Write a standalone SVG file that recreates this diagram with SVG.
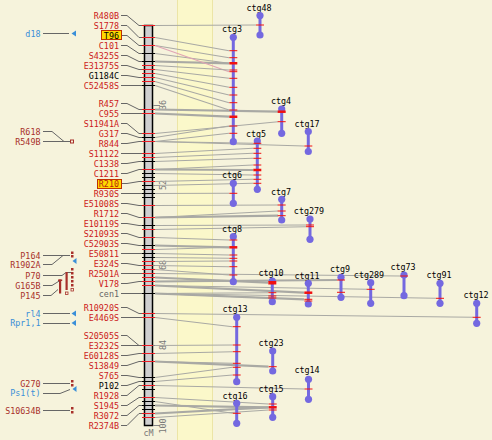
<svg xmlns="http://www.w3.org/2000/svg" width="492" height="440" viewBox="0 0 492 440">
<style>
text{font-family:"DejaVu Sans Mono","Liberation Mono",monospace;font-size:8.4px}
.lb{text-anchor:end;fill:#cc1a1a}
.lk{text-anchor:end;fill:#000}
.lg{text-anchor:end;fill:#666}
.lbl{text-anchor:end;fill:#3a8fd8}
.lbr{text-anchor:end;fill:#a8302a}
.ct{text-anchor:middle;fill:#000}
.ld{stroke:#666;stroke-width:1;fill:none}
.tr{stroke:#ee1c24;stroke-width:1;fill:none}
.tb{stroke:#000;stroke-width:1;fill:none}
.cn line{stroke:#a9a9a4;stroke-width:1.1}
.cn .w{stroke-width:2.2}
.cn .pk{stroke:#e0a4b4}
.bar{stroke:#7468e0;stroke-width:3}
.dot{fill:#7468e0}
.ctk{stroke:#f01010;stroke-width:1}
.ctk2{stroke:#f01010;stroke-width:2.5}
.tri{fill:#3a8fd8}
.mk{fill:#a8302a}
</style>
<rect width="492" height="440" fill="#f6f3dc"/>
<rect x="177" y="0" width="36" height="440" fill="#fbf8ca"/>
<path d="M177.5,0V440M212.5,0V440" stroke="#ece5a6" stroke-width="1"/>

<!-- chromosome -->
<g id="chromosome">
<rect x="144.5" y="25.5" width="8" height="400" fill="#cfcfcf" stroke="#000" stroke-width="1.5"/>
<path class="tr" d="M142,25.5h13M142,37.5h13M142,45.5h13M142,65.5h13M142,69.5h13M142,73.5h13M142,77.5h13M142,81.5h13M142,109.5h13M142,113.5h13M142,133.5h13M142,141.5h13M142,153.5h13M142,157.5h13M142,169.5h13M142,181.5h13M142,205.5h13M142,217.5h13M142,229.5h13M142,237.5h13M142,249.5h13M142,261.5h13M142,265.5h13M142,269.5h13M142,273.5h13M142,277.5h13M142,281.5h13M142,285.5h13M142,313.5h13M142,317.5h13M142,345.5h13M142,353.5h13M142,361.5h13M142,385.5h13M142,397.5h13M142,413.5h13M142,417.5h13"/>
<path class="tb" d="M142,53.5h13M142,61.5h13M142,85.5h13M142,137.5h13M142,161.5h13M142,173.5h13M142,177.5h13M142,185.5h13M142,189.5h13M142,193.5h13M142,197.5h13M142,225.5h13M142,245.5h13M142,253.5h13M142,257.5h13M142,293.5h13M142,377.5h13M142,381.5h13M142,389.5h13M142,401.5h13M142,405.5h13M142,409.5h13"/>
<path d="M153,105.5h7M153,185.5h7M153,265.5h7M153,345.5h7M153,425.5h7" stroke="#888" stroke-width="1"/>
<g fill="#777">
<text transform="translate(166,105) rotate(-90)" text-anchor="middle">36</text>
<text transform="translate(166,185) rotate(-90)" text-anchor="middle">52</text>
<text transform="translate(166,265) rotate(-90)" text-anchor="middle">68</text>
<text transform="translate(166,345) rotate(-90)" text-anchor="middle">84</text>
<text transform="translate(166,426) rotate(-90)" text-anchor="middle">100</text>
<text x="148.5" y="436" text-anchor="middle">cM</text>
</g>
</g>

<!-- marker labels and leaders -->
<g id="markers">
<rect x="101.5" y="30.5" width="20" height="9" fill="#ffd800" stroke="#c03000"/>
<rect x="97.5" y="179.5" width="24" height="9" fill="#ffd800" stroke="#c03000"/>
<path class="ld" d="M121,15.5H127L139,25.5H142M121,25.5H127L139,37.5H142M122,35.5H127L139,45.5H142M121,45.5H127L139,53.5H142M121,55.5H127L139,61.5H142M121,65.5H127L139,69.5H142M121,75.5H127L139,77.5H142M121,85.5H142M121,103.5H127L139,109.5H142M121,113.5H142M121,123.5H127L139,133.5H142M121,133.5H127L139,137.5H142M121,143.5H127L139,141.5H142M121,153.5H127L139,153.5H142M121,163.5H127L139,161.5H142M121,173.5H127L139,169.5H142M122,183.5H127L139,181.5H142M121,193.5H127L139,193.5H142M121,203.5H127L139,205.5H142M121,213.5H127L139,217.5H142M121,223.5H127L139,225.5H142M121,233.5H127L139,237.5H142M121,243.5H127L139,245.5H142M121,253.5H127L139,253.5H142M121,263.5H127L139,265.5H142M121,273.5H127L139,273.5H142M121,283.5H127L139,281.5H142M121,293.5H142M121,307.5H127L139,313.5H142M121,317.5H142M121,335.5H127L139,345.5H142M121,345.5H142M121,355.5H127L139,353.5H142M121,365.5H127L139,361.5H142M121,375.5H127L139,377.5H142M121,385.5H127L139,381.5H142M121,395.5H127L139,385.5H142M121,405.5H127L139,397.5H142M121,415.5H127L139,405.5H142M121,425.5H127L139,413.5H142"/>
<text class="lb" x="119" y="18.5">R480B</text>
<text class="lb" x="119" y="28.5">S1778</text>
<text class="lk" x="119" y="38.5">T96</text>
<text class="lb" x="119" y="48.5">C101</text>
<text class="lb" x="119" y="58.5">S4325S</text>
<text class="lb" x="119" y="68.5">E31375S</text>
<text class="lk" x="119" y="78.5">G1184C</text>
<text class="lb" x="119" y="88.5">C52458S</text>
<text class="lb" x="119" y="106.5">R457</text>
<text class="lb" x="119" y="116.5">C955</text>
<text class="lb" x="119" y="126.5">S11941A</text>
<text class="lb" x="119" y="136.5">G317</text>
<text class="lb" x="119" y="146.5">R844</text>
<text class="lb" x="119" y="156.5">S11122</text>
<text class="lb" x="119" y="166.5">C1338</text>
<text class="lb" x="119" y="176.5">C1211</text>
<text class="lb" x="119" y="186.5" style="fill:#b81c10">R210</text>
<text class="lb" x="119" y="196.5">R930S</text>
<text class="lb" x="119" y="206.5">E51008S</text>
<text class="lb" x="119" y="216.5">R1712</text>
<text class="lb" x="119" y="226.5">E10119S</text>
<text class="lb" x="119" y="236.5">S21093S</text>
<text class="lb" x="119" y="246.5">C52903S</text>
<text class="lb" x="119" y="256.5">E50811</text>
<text class="lb" x="119" y="266.5">E324S</text>
<text class="lb" x="119" y="276.5">R2501A</text>
<text class="lb" x="119" y="286.5">V178</text>
<text class="lg" x="119" y="296.5">cen1</text>
<text class="lb" x="119" y="310.5">R10920S</text>
<text class="lb" x="119" y="320.5">E4469S</text>
<text class="lb" x="119" y="338.5">S20505S</text>
<text class="lb" x="119" y="348.5">E3232S</text>
<text class="lb" x="119" y="358.5">E60128S</text>
<text class="lb" x="119" y="368.5">S13849</text>
<text class="lb" x="119" y="378.5">S765</text>
<text class="lk" x="119" y="388.5">P102</text>
<text class="lb" x="119" y="398.5">R1928</text>
<text class="lb" x="119" y="408.5">S1945</text>
<text class="lb" x="119" y="418.5">R3072</text>
<text class="lb" x="119" y="428.5">R2374B</text>
</g>

<!-- left-side features -->
<g id="features">
<path class="ld" d="M43,33.5H69M43,131.5H52L64,141.5H70M43,141.5H70M43,255.5H70M43,264.5H52L63,255.5M43,275.5H62L66,272.5H72M43,285.5H52L60,280.5M43,295.5H51L58,289.5M43,313.5H70M43,323.5H70M43,383.5H70M43,393.5H60L70,389.5M43,410.5H70"/>
<text class="lbl" x="40.5" y="36.5">d18</text>
<polygon class="tri" points="71.5,33.5 76,30.5 76,36.5"/>
<text class="lbr" x="40.5" y="134.5">R618</text>
<text class="lbr" x="40.5" y="144.5">R549B</text>
<rect x="70.5" y="140" width="3" height="3" fill="none" stroke="#a8302a"/>
<text class="lbr" x="40.5" y="258.5">P164</text>
<text class="lbr" x="40.5" y="267.5">R1902A</text>
<text class="lbr" x="40.5" y="278.5">P70</text>
<text class="lbr" x="40.5" y="288.5">G165B</text>
<text class="lbr" x="40.5" y="298.5">P145</text>
<rect class="mk" x="71" y="251.5" width="2.5" height="2.5"/>
<rect class="mk" x="71" y="255" width="2.5" height="2.5"/>
<polygon class="tri" points="72.5,261 76.5,258 76.5,264"/>
<rect class="mk" x="71" y="268" width="2.5" height="2.5"/>
<rect class="mk" x="71" y="272" width="2.5" height="2.5"/>
<rect class="mk" x="71" y="276" width="2.5" height="2.5"/>
<rect class="mk" x="71" y="280" width="2.5" height="2.5"/>
<rect class="mk" x="71" y="284" width="2.5" height="2.5"/>
<rect x="71" y="288.5" width="2.5" height="2.5" fill="none" stroke="#a8302a" stroke-width="0.8"/>
<rect class="mk" x="65.5" y="272" width="2.2" height="18"/>
<rect x="65.5" y="292" width="2.5" height="2.5" fill="none" stroke="#a8302a" stroke-width="0.8"/>
<rect class="mk" x="59" y="279.5" width="2.2" height="14"/>
<rect class="mk" x="58" y="279.5" width="4.2" height="1.5"/>
<text class="lbl" x="40.5" y="316.5">rl4</text>
<polygon class="tri" points="71.5,313.5 76,310.5 76,316.5"/>
<text class="lbl" x="40.5" y="326">Rpr1,1</text>
<polygon class="tri" points="71.5,323 76,320 76,326"/>
<text class="lbr" x="40.5" y="386.5">G270</text>
<rect class="mk" x="71" y="380" width="2.5" height="2.5"/>
<rect class="mk" x="71" y="384" width="2.5" height="2.5"/>
<text class="lbl" x="40.5" y="396">Ps1(t)</text>
<polygon class="tri" points="72.5,389 76.5,386 76.5,392"/>
<text class="lbr" x="40.5" y="413.5">S10634B</text>
<rect class="mk" x="71" y="407" width="2.5" height="2.5"/>
<rect class="mk" x="71" y="411" width="2.5" height="2.5"/>
</g>

<!-- connectors -->
<g id="connectors" class="cn">
<line x1="155" y1="25.5" x2="256" y2="25"/>
<line x1="155" y1="37.5" x2="229" y2="50.7"/>
<line x1="155" y1="45.5" x2="229" y2="57.7"/>
<line x1="155" y1="53.5" x2="229" y2="63.3"/>
<line class="w" x1="155" y1="61.5" x2="229" y2="63.3"/>
<line class="pk" x1="155" y1="45.5" x2="229" y2="71.7"/>
<line x1="155" y1="65.5" x2="229" y2="70"/>
<line x1="155" y1="69.5" x2="229" y2="78.3"/>
<line x1="155" y1="73.5" x2="229" y2="87.3"/>
<line x1="155" y1="77.5" x2="229" y2="95"/>
<line x1="155" y1="81.5" x2="229" y2="102.7"/>
<line x1="155" y1="85.5" x2="229" y2="110"/>
<line class="w" x1="155" y1="109.5" x2="278" y2="111.7"/>
<line class="w" x1="155" y1="113.5" x2="229" y2="116.7"/>
<line x1="155" y1="133.5" x2="278" y2="121.7"/>
<line x1="155" y1="137.5" x2="229" y2="126"/>
<line x1="155" y1="141.5" x2="229" y2="133.3"/>
<line x1="155" y1="141.5" x2="253" y2="143.3"/>
<line x1="155" y1="141.5" x2="304" y2="146"/>
<line x1="155" y1="153.5" x2="253" y2="148.3"/>
<line x1="155" y1="157.5" x2="253" y2="153.3"/>
<line x1="155" y1="161.5" x2="253" y2="158.3"/>
<line x1="155" y1="169.5" x2="253" y2="165"/>
<line class="w" x1="155" y1="169.5" x2="253" y2="170"/>
<line x1="155" y1="173.5" x2="253" y2="175"/>
<line x1="155" y1="181.5" x2="253" y2="179.3"/>
<line x1="155" y1="185.5" x2="253" y2="183.3"/>
<line x1="155" y1="193.5" x2="229" y2="193.3"/>
<line x1="155" y1="205.5" x2="278" y2="205"/>
<line x1="155" y1="217.5" x2="278" y2="211"/>
<line class="w" x1="155" y1="217.5" x2="278" y2="215.7"/>
<line x1="155" y1="225.5" x2="306" y2="225"/>
<line x1="155" y1="229.5" x2="306" y2="226.7"/>
<line x1="155" y1="237.5" x2="229" y2="240"/>
<line class="w" x1="155" y1="245.5" x2="229" y2="247.3"/>
<line x1="155" y1="249.5" x2="229" y2="247.3"/>
<line x1="155" y1="253.5" x2="229" y2="255"/>
<line x1="155" y1="257.5" x2="229" y2="258.3"/>
<line x1="155" y1="261.5" x2="229" y2="261"/>
<line x1="155" y1="265.5" x2="229" y2="266.7"/>
<line x1="155" y1="269.5" x2="229" y2="275"/>
<line x1="155" y1="273.5" x2="400" y2="276"/>
<line class="w" x1="155" y1="277.5" x2="268" y2="282.7"/>
<line class="w" x1="155" y1="281.5" x2="337" y2="280"/>
<line class="w" x1="155" y1="285.5" x2="304" y2="292.7"/>
<line x1="155" y1="285.5" x2="367" y2="289.3"/>
<line x1="155" y1="293.5" x2="268" y2="292.7"/>
<line x1="155" y1="293.5" x2="436" y2="298.3"/>
<line class="w" x1="155" y1="293.5" x2="304" y2="299.3"/>
<line x1="155" y1="293.5" x2="268" y2="298"/>
<line x1="155" y1="313.5" x2="473" y2="317.3"/>
<line x1="155" y1="317.5" x2="232.5" y2="326.7"/>
<line x1="155" y1="345.5" x2="232.5" y2="345"/>
<line x1="155" y1="353.5" x2="232.5" y2="351.7"/>
<line class="w" x1="155" y1="361.5" x2="268.5" y2="366.7"/>
<line x1="155" y1="361.5" x2="232.5" y2="363.3"/>
<line x1="155" y1="377.5" x2="232.5" y2="367.3"/>
<line x1="155" y1="381.5" x2="232.5" y2="375"/>
<line x1="155" y1="385.5" x2="304.5" y2="389"/>
<line x1="155" y1="397.5" x2="268.5" y2="404"/>
<line x1="155" y1="401.5" x2="232.5" y2="413.3"/>
<line class="w" x1="155" y1="405.5" x2="268.5" y2="407.3"/>
<line class="w" x1="155" y1="413.5" x2="268.5" y2="407.3"/>
<line x1="155" y1="417.5" x2="268.5" y2="410"/>
</g>

<!-- contigs -->
<g id="ctg48"><text class="ct" x="259" y="10.5">ctg48</text><line class="bar" x1="260" y1="15.5" x2="260" y2="35"/><circle class="dot" cx="260" cy="15.5" r="3.6"/><circle class="dot" cx="260" cy="35" r="3.6"/><path class="ctk" d="M256,25h8"/></g>
<g id="ctg3"><text class="ct" x="232" y="32">ctg3</text><line class="bar" x1="233.3" y1="37.3" x2="233.3" y2="141.7"/><circle class="dot" cx="233.3" cy="37.3" r="3.6"/><circle class="dot" cx="233.3" cy="141.7" r="3.6"/><path class="ctk" d="M229.3,50.7h8M229.3,57.7h8M229.3,70h8M229.3,71.7h8M229.3,78.3h8M229.3,87.3h8M229.3,95h8M229.3,102.7h8M229.3,110h8M229.3,126h8M229.3,133.3h8"/><path class="ctk2" d="M229.3,63.3h8M229.3,116.7h8"/></g>
<g id="ctg4"><text class="ct" x="281" y="104">ctg4</text><line class="bar" x1="281.7" y1="109" x2="281.7" y2="133.3"/><circle class="dot" cx="281.7" cy="109" r="3.6"/><circle class="dot" cx="281.7" cy="133.3" r="3.6"/><path class="ctk2" d="M277.7,111.7h8"/><path class="ctk" d="M277.7,121.7h8"/></g>
<g id="ctg17"><text class="ct" x="307" y="127">ctg17</text><line class="bar" x1="308.3" y1="131.5" x2="308.3" y2="151.5"/><circle class="dot" cx="308.3" cy="131.5" r="3.6"/><circle class="dot" cx="308.3" cy="151.5" r="3.6"/><path class="ctk" d="M304.3,146h8"/></g>
<g id="ctg5"><text class="ct" x="256" y="136.5">ctg5</text><line class="bar" x1="257.3" y1="141" x2="257.3" y2="189.3"/><circle class="dot" cx="257.3" cy="141" r="3.6"/><circle class="dot" cx="257.3" cy="189.3" r="3.6"/><path class="ctk" d="M253.3,143.3h8M253.3,148.3h8M253.3,153.3h8M253.3,158.3h8M253.3,165h8M253.3,175h8M253.3,179.3h8M253.3,183.3h8"/><path class="ctk2" d="M253.3,170h8"/></g>
<g id="ctg6"><text class="ct" x="232" y="178">ctg6</text><line class="bar" x1="233.3" y1="183.3" x2="233.3" y2="203.3"/><circle class="dot" cx="233.3" cy="183.3" r="3.6"/><circle class="dot" cx="233.3" cy="203.3" r="3.6"/><path class="ctk" d="M229.3,193.3h8"/></g>
<g id="ctg7"><text class="ct" x="281" y="194.7">ctg7</text><line class="bar" x1="281.7" y1="199.3" x2="281.7" y2="220"/><circle class="dot" cx="281.7" cy="199.3" r="3.6"/><circle class="dot" cx="281.7" cy="220" r="3.6"/><path class="ctk" d="M277.7,205h8M277.7,211h8M277.7,215.7h8"/></g>
<g id="ctg279"><text class="ct" x="309" y="214">ctg279</text><line class="bar" x1="310" y1="219" x2="310" y2="239.3"/><circle class="dot" cx="310" cy="219" r="3.6"/><circle class="dot" cx="310" cy="239.3" r="3.6"/><path class="ctk" d="M306,225h8M306,226.7h8"/></g>
<g id="ctg8"><text class="ct" x="232" y="232.3">ctg8</text><line class="bar" x1="233.3" y1="236.7" x2="233.3" y2="281.7"/><circle class="dot" cx="233.3" cy="236.7" r="3.6"/><circle class="dot" cx="233.3" cy="281.7" r="3.6"/><path class="ctk" d="M229.3,240h8M229.3,255h8M229.3,258.3h8M229.3,261h8M229.3,266.7h8M229.3,275h8"/><path class="ctk2" d="M229.3,247.3h8"/></g>
<g id="ctg10"><text class="ct" x="271" y="275.7">ctg10</text><line class="bar" x1="272.3" y1="281" x2="272.3" y2="301.7"/><circle class="dot" cx="272.3" cy="281" r="3.6"/><circle class="dot" cx="272.3" cy="301.7" r="3.6"/><rect x="268.3" y="281" width="8" height="3.5" fill="#f01010"/><path class="ctk" d="M268.3,292.7h8M268.3,296h8M268.3,298h8"/></g>
<g id="ctg11"><text class="ct" x="307" y="279">ctg11</text><line class="bar" x1="308.3" y1="283.3" x2="308.3" y2="304"/><circle class="dot" cx="308.3" cy="283.3" r="3.6"/><circle class="dot" cx="308.3" cy="304" r="3.6"/><path class="ctk2" d="M304.3,292.7h8"/><path class="ctk" d="M304.3,299.3h8M304.3,301h8"/></g>
<g id="ctg9"><text class="ct" x="340" y="272.3">ctg9</text><line class="bar" x1="341" y1="277.3" x2="341" y2="297.3"/><circle class="dot" cx="341" cy="277.3" r="3.6"/><circle class="dot" cx="341" cy="297.3" r="3.6"/><path class="ctk" d="M337,280h8M337,292.3h8"/></g>
<g id="ctg289"><text class="ct" x="369" y="278">ctg289</text><line class="bar" x1="370.7" y1="282.7" x2="370.7" y2="303.3"/><circle class="dot" cx="370.7" cy="282.7" r="3.6"/><circle class="dot" cx="370.7" cy="303.3" r="3.6"/><path class="ctk" d="M366.7,289.3h8"/></g>
<g id="ctg73"><text class="ct" x="403" y="269.7">ctg73</text><line class="bar" x1="404" y1="275" x2="404" y2="295.7"/><circle class="dot" cx="404" cy="275" r="3.6"/><circle class="dot" cx="404" cy="295.7" r="3.6"/><path class="ctk" d="M400,276h8"/></g>
<g id="ctg91"><text class="ct" x="439" y="278">ctg91</text><line class="bar" x1="440" y1="283.3" x2="440" y2="303.3"/><circle class="dot" cx="440" cy="283.3" r="3.6"/><circle class="dot" cx="440" cy="303.3" r="3.6"/><path class="ctk" d="M436,298.3h8"/></g>
<g id="ctg12"><text class="ct" x="476" y="298">ctg12</text><line class="bar" x1="476.7" y1="303.3" x2="476.7" y2="323.3"/><circle class="dot" cx="476.7" cy="303.3" r="3.6"/><circle class="dot" cx="476.7" cy="323.3" r="3.6"/><path class="ctk" d="M472.7,317.3h8"/></g>
<g id="ctg13"><text class="ct" x="235" y="312.3">ctg13</text><line class="bar" x1="236.7" y1="317.3" x2="236.7" y2="381.7"/><circle class="dot" cx="236.7" cy="317.3" r="3.6"/><circle class="dot" cx="236.7" cy="381.7" r="3.6"/><path class="ctk" d="M232.7,326.7h8M232.7,345h8M232.7,351.7h8M232.7,363.3h8M232.7,367.3h8M232.7,375h8"/></g>
<g id="ctg23"><text class="ct" x="271" y="345.7">ctg23</text><line class="bar" x1="272.7" y1="351" x2="272.7" y2="371"/><circle class="dot" cx="272.7" cy="351" r="3.6"/><circle class="dot" cx="272.7" cy="371" r="3.6"/><path class="ctk" d="M268.7,366.7h8"/></g>
<g id="ctg14"><text class="ct" x="307" y="373">ctg14</text><line class="bar" x1="308.5" y1="379.3" x2="308.5" y2="399.3"/><circle class="dot" cx="308.5" cy="379.3" r="3.6"/><circle class="dot" cx="308.5" cy="399.3" r="3.6"/><path class="ctk" d="M304.5,389h8"/></g>
<g id="ctg15"><text class="ct" x="271" y="392">ctg15</text><line class="bar" x1="272.7" y1="396.7" x2="272.7" y2="417.3"/><circle class="dot" cx="272.7" cy="396.7" r="3.6"/><circle class="dot" cx="272.7" cy="417.3" r="3.6"/><path class="ctk" d="M268.7,404h8M268.7,410h8"/><path class="ctk2" d="M268.7,407.3h8"/></g>
<g id="ctg16"><text class="ct" x="235" y="398.7">ctg16</text><line class="bar" x1="236.7" y1="403.3" x2="236.7" y2="423.3"/><circle class="dot" cx="236.7" cy="403.3" r="3.6"/><circle class="dot" cx="236.7" cy="423.3" r="3.6"/><path class="ctk" d="M232.7,413.3h8"/></g>
</svg>
